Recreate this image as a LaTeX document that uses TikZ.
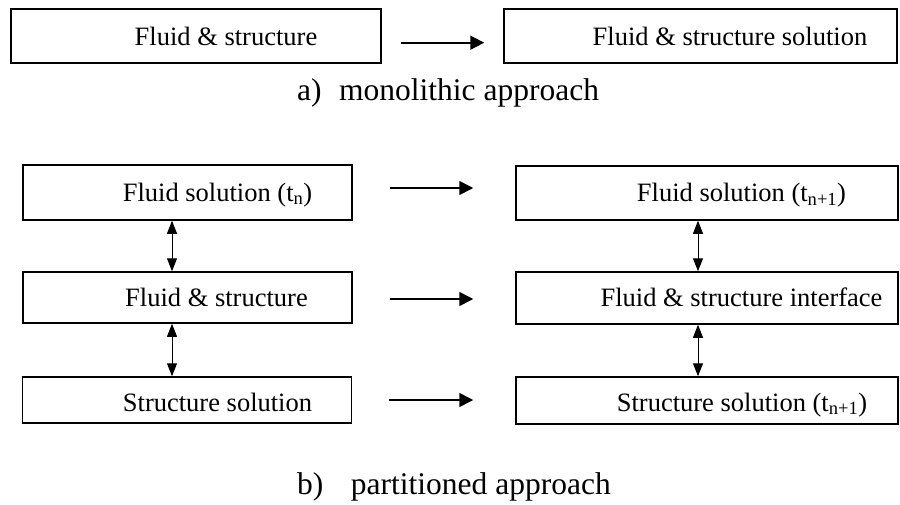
\documentclass[tikz,border=0pt]{standalone}
\usepackage{fontspec}
\setmainfont{Liberation Serif}
\usetikzlibrary{arrows.meta}
\begin{document}
\begin{tikzpicture}[x=1pt,y=-1pt,
  box/.style={draw,line width=1.5pt,inner sep=0pt,rectangle},
  txt/.style={anchor=base,inner sep=0pt,font=\fontsize{26.5}{30}\selectfont},
  captxt/.style={anchor=base west,inner sep=0pt,font=\fontsize{31.5}{36}\selectfont},
  harr/.style={line width=1.6pt,-{Triangle[length=14pt,width=14pt]}},
  darr/.style={line width=1pt,{Triangle[length=13pt,width=10pt]}-{Triangle[length=13pt,width=10pt]}}]
\useasboundingbox (0,0) rectangle (900,504);
% monolithic
\node[box,minimum width=370pt,minimum height=54pt] (T1) at (196,36) {};
\node[box,minimum width=393pt,minimum height=54pt] (T2) at (700.5,36) {};
\node[txt] (t1) at (226,45) {Fluid \& structure};
\node[txt] (t2) at (730,45) {Fluid \& structure solution};
\draw[harr,shorten <=19pt,shorten >=19pt] ([yshift=-6.7pt]T1.east) -- ([yshift=-6.7pt]T2.west);
\node[captxt] (ca) at (297,100) {a)\hspace{17.5pt}monolithic approach};
% partitioned
\node[box,minimum width=329pt,minimum height=55pt] (L1) at (187.5,192.5) {};
\node[box,minimum width=329pt,minimum height=51pt] (L2) at (187.5,297.5) {};
\node[box,minimum width=329pt,minimum height=46pt] (L3) at (187,400) {};
\node[box,minimum width=382pt,minimum height=54pt] (R1) at (707,193) {};
\node[box,minimum width=382pt,minimum height=52pt] (R2) at (707,298) {};
\node[box,minimum width=382pt,minimum height=47pt] (R3) at (707,400.5) {};
\node[txt] (l1) at (217.5,201) {Fluid solution (t\textsubscript{n})};
\node[txt] (l2) at (216.5,306.5) {Fluid \& structure};
\node[txt] (l3) at (217.5,411) {Structure solution};
\node[txt] (r1) at (741.5,201.5) {Fluid solution (t\textsubscript{n+1})};
\node[txt] (r2) at (741.5,306) {Fluid \& structure interface};
\node[txt] (r3) at (742,411) {Structure solution (t\textsubscript{n+1})};
\coordinate (lx) at (172,0);
\coordinate (rx) at (698,0);
\draw[darr] (L1.south -| lx) -- (L2.north -| lx);
\draw[darr] (L2.south -| lx) -- (L3.north -| lx);
\draw[darr] (R1.south -| rx) -- (R2.north -| rx);
\draw[darr] (R2.south -| rx) -- (R3.north -| rx);
\draw[harr,shorten <=37pt,shorten >=42pt] ([yshift=4.5pt]L1.east) -- ([yshift=4.5pt]L1.east -| R1.west);
\draw[harr,shorten <=37pt,shorten >=42pt] ([yshift=-1.5pt]L2.east) -- ([yshift=-1.5pt]L2.east -| R2.west);
\draw[harr,shorten <=37pt,shorten >=42pt] (L3.east) -- (L3.east -| R3.west);
\node[captxt] (cb) at (297,494) {b)\hspace{27.5pt}partitioned approach};
\end{tikzpicture}
\end{document}
